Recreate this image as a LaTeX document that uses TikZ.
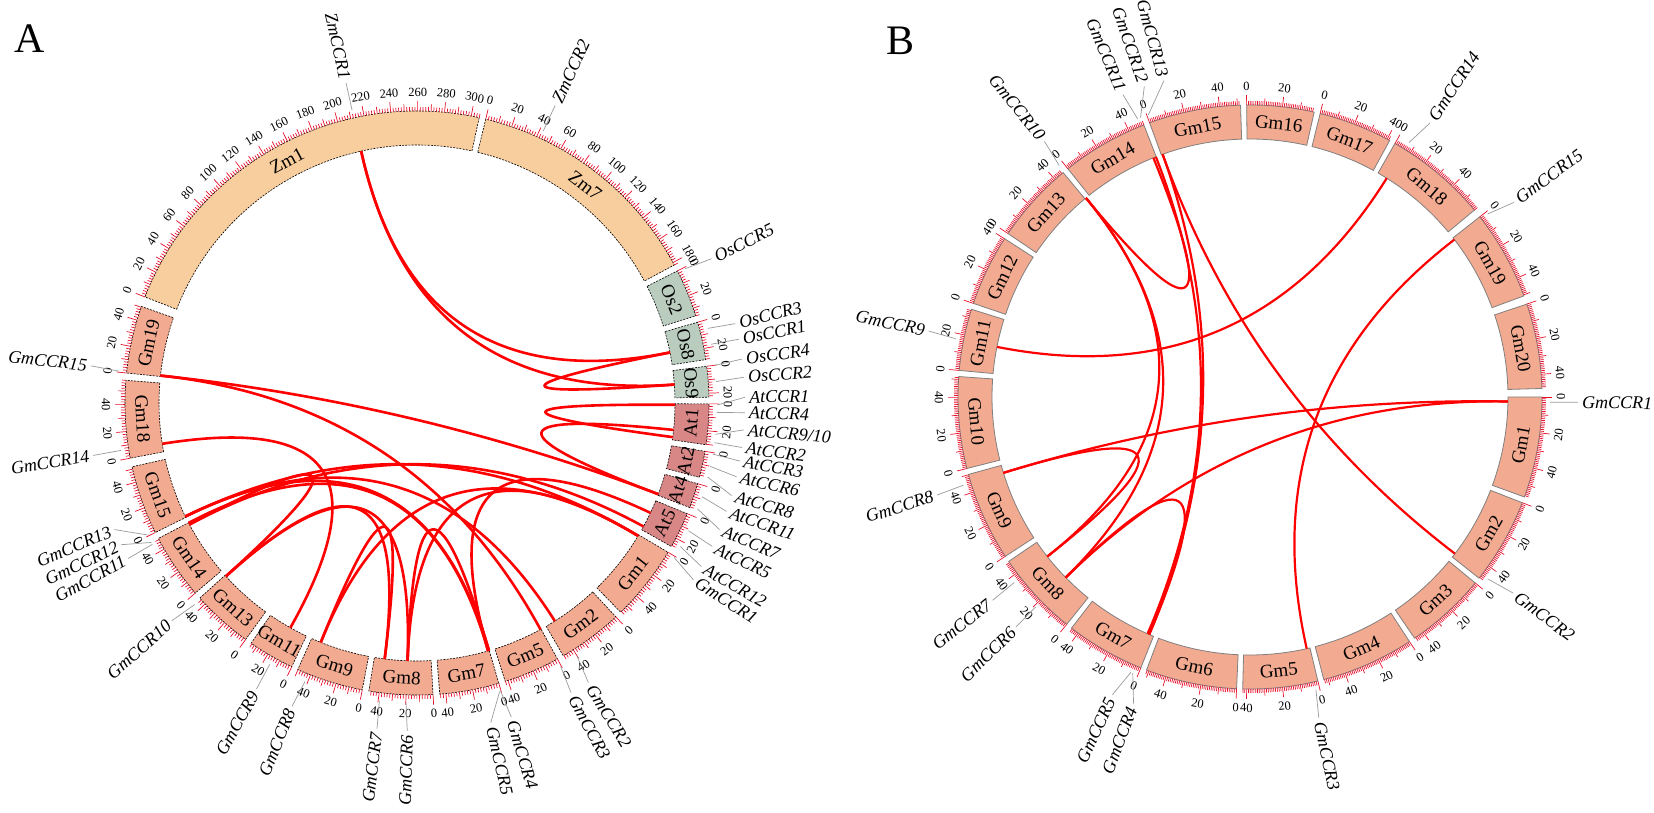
\documentclass[tikz,border=0pt]{standalone}
\usepackage{fontspec}
\setmainfont{Liberation Serif}
\usetikzlibrary{calc}

\definecolor{zmfill}{HTML}{F9CE9E}
\definecolor{osfill}{HTML}{B9CCBE}
\definecolor{atfill}{HTML}{D88686}
\definecolor{gmfill}{HTML}{F2AA91}
\definecolor{tickred}{HTML}{E8102A}
\definecolor{labelgray}{HTML}{9A9A9A}

\def\rin{258}
\def\rout{292}

\tikzset{
  chrbox/.style={line width=0.6pt, draw=black, dash pattern=on 2pt off 1.2pt},
  chrboxb/.style={line width=0.8pt, draw=gray},
  tickmark/.style={draw=tickred, line width=0.7pt},
  ticklabel/.style={font=\fontsize{12.5}{12.5}\selectfont, inner sep=0pt},
  chrlabel/.style={font=\fontsize{19}{19}\selectfont, inner sep=0pt},
  genelabel/.style={font=\fontsize{18}{18}\selectfont\itshape, inner sep=1pt},
  geneline/.style={draw=labelgray, line width=0.7pt},
  ccrlink/.style={draw=red, line width=2.6pt},
  panel/.style={font=\fontsize{42}{42}\selectfont, inner sep=0pt},
}

% one chromosome: start angle, size (Mb), fill, label, box style
\newcommand\chrom[5]{%
  \pgfmathsetmacro\chrend{#1-#2*\degmb}
  \filldraw[fill=#3, #5] (#1:\rin) arc[start angle=#1, end angle=\chrend, radius=\rin]
    -- (\chrend:\rout) arc[start angle=\chrend, end angle=#1, radius=\rout] -- cycle;
  \pgfmathsetmacro\chrmid{(#1+\chrend)/2}
  \pgfmathsetmacro\chrrot{sin(\chrmid)>=0 ? \chrmid-90 : \chrmid+90}
  \node[chrlabel, rotate=\chrrot] at (\chrmid:275) {#4};
  \pgfmathtruncatemacro\chrlast{floor(#2)}
  \foreach \t in {0,\tickstep,...,\chrlast} {
    \pgfmathsetmacro\ta{#1-\t*\degmb}
    \pgfmathtruncatemacro\tmodt{mod(\t,20)}
    \pgfmathtruncatemacro\tmodd{mod(\t,10)}
    \pgfmathsetmacro\tlen{\tmodt==0 ? 10 : (\tmodd==0 ? 7 : 4)}
    \draw[tickmark] (\ta:\rout) -- (\ta:{\rout+\tlen});
    \ifnum\tmodt=0
      \pgfmathsetmacro\trot{sin(\ta)>=0 ? \ta-90 : \ta+90}
      \node[ticklabel, rotate=\trot] at (\ta:311) {\t};
    \fi
  }
}

% one gene: name, angle on ring, angle of label, text
\newcommand\gene[4]{%
  \coordinate (#1) at (#2:\rin);
  \coordinate (#1-c) at (#2:{\rin/3});
  \draw[geneline] (#2:300) -- (#3:328);
  \pgfmathtruncatemacro\glflip{cos(#3)<0 ? 1 : 0}
  \ifnum\glflip=1
    \pgfmathsetmacro\glrot{#3+180}
    \node[genelabel, anchor=east, rotate=\glrot] at (#3:331) {#4};
  \else
    \node[genelabel, anchor=west, rotate=#3] at (#3:331) {#4};
  \fi
}

\newcommand\ccr[2]{\draw[ccrlink] (#1) .. controls (#1-c) and (#2-c) .. (#2);}

\begin{document}
\begin{tikzpicture}[x=1pt, y=1pt]
\useasboundingbox (0,0) rectangle (1654,812);

\node[panel] (panelA) at (30,773) {A};
\node[panel] (panelB) at (900,771) {B};

%% A
\begin{scope}[shift={(417,409)}]
\def\degmb{0.2647}\def\tickstep{2}
\foreach \s/\n/\c/\l in {158.70/306/zmfill/Zm1, 76.39/182/zmfill/Zm7,
    26.90/36/osfill/Os2, 16.06/28.4/osfill/Os8, 7.23/23/osfill/Os9,
    -0.17/30.4/atfill/At1, -9.53/19.7/atfill/At2, -16.05/18.6/atfill/At4,
    -22.28/27/atfill/At5, -30.74/56.8/gmfill/Gm1, -47.08/48.6/gmfill/Gm2,
    -61.25/42.2/gmfill/Gm5, -73.73/44.6/gmfill/Gm7, -86.85/47.8/gmfill/Gm8,
    -100.81/50.2/gmfill/Gm9, -115.41/34.8/gmfill/Gm11, -125.93/45.9/gmfill/Gm13,
    -139.39/49/gmfill/Gm14, -153.67/51.8/gmfill/Gm15, -169.10/58/gmfill/Gm18,
    -185.90/50.6/gmfill/Gm19}
  {\chrom{\s}{\n}{\c}{\l}{chrbox}}

\gene{a-ZmCCR1}{102.5}{102.5}{ZmCCR1}
\gene{a-ZmCCR2}{65.1}{65.1}{ZmCCR2}
\gene{a-OsCCR5}{26.6}{26.1}{OsCCR5}
\gene{a-OsCCR3}{14.4}{14.0}{OsCCR3}
\gene{a-OsCCR1}{11.3}{11.2}{OsCCR1}
\gene{a-OsCCR4}{7.2}{7.7}{OsCCR4}
\gene{a-OsCCR2}{4.1}{4.5}{OsCCR2}
\gene{a-AtCCR1}{-0.4}{1.0}{AtCCR1}
\gene{a-AtCCR4}{-1.8}{-1.7}{AtCCR4}
\gene{a-AtCCR9}{-6.0}{-4.7}{AtCCR9/10}
\gene{a-AtCCR2}{-7.6}{-7.8}{AtCCR2}
\gene{a-AtCCR3}{-9.8}{-10.2}{AtCCR3}
\gene{a-AtCCR6}{-12.2}{-13.0}{AtCCR6}
\gene{a-AtCCR8}{-14.3}{-16.4}{AtCCR8}
\gene{a-AtCCR11}{-18.2}{-19.3}{AtCCR11}
\gene{a-AtCCR7}{-20.7}{-22.7}{AtCCR7}
\gene{a-AtCCR5}{-25.2}{-25.9}{AtCCR5}
\gene{a-AtCCR12}{-28.6}{-29.9}{AtCCR12}
\gene{a-GmCCR1}{-31.0}{-32.6}{GmCCR1}
\gene{a-GmCCR2}{-57.7}{-58.5}{GmCCR2}
\gene{a-GmCCR3}{-61.4}{-62.0}{GmCCR3}
\gene{a-GmCCR4}{-73.8}{-73.3}{GmCCR4}
\gene{a-GmCCR5}{-74.0}{-77.0}{GmCCR5}
\gene{a-GmCCR6}{-92.1}{-91.7}{GmCCR6}
\gene{a-GmCCR7}{-97.2}{-97.0}{GmCCR7}
\gene{a-GmCCR8}{-111.9}{-112.4}{GmCCR8}
\gene{a-GmCCR9}{-119.4}{-119.3}{GmCCR9}
\gene{a-GmCCR10}{-137.8}{-138.4}{GmCCR10}
\gene{a-GmCCR11}{-151.9}{-151.7}{GmCCR11}
\gene{a-GmCCR12}{-152.3}{-154.4}{GmCCR12}
\gene{a-GmCCR13}{-153.9}{-157.3}{GmCCR13}
\gene{a-GmCCR14}{-170.9}{-170.8}{GmCCR14}
\gene{a-GmCCR15}{173.9}{173.5}{GmCCR15}

% links
\ccr{a-ZmCCR1}{a-OsCCR1}
\ccr{a-ZmCCR1}{a-OsCCR2}
\ccr{a-OsCCR1}{a-OsCCR2}
\ccr{a-AtCCR1}{a-AtCCR2}
\ccr{a-AtCCR9}{a-AtCCR7}
\ccr{a-GmCCR15}{a-AtCCR7}
\ccr{a-GmCCR15}{a-GmCCR3}
\ccr{a-GmCCR14}{a-GmCCR9}
\ccr{a-GmCCR1}{a-GmCCR8}
\ccr{a-GmCCR1}{a-GmCCR6}
\ccr{a-GmCCR13}{a-GmCCR1}
\ccr{a-GmCCR11}{a-AtCCR12}
\ccr{a-GmCCR5}{a-AtCCR5}
\ccr{a-GmCCR8}{a-GmCCR7}
\ccr{a-GmCCR10}{a-GmCCR11}
\ccr{a-GmCCR10}{a-GmCCR7}
\ccr{a-GmCCR10}{a-GmCCR6}
\ccr{a-GmCCR12}{a-GmCCR5}
\ccr{a-GmCCR13}{a-GmCCR2}
\ccr{a-GmCCR13}{a-GmCCR4}
\ccr{a-GmCCR6}{a-GmCCR4}
\end{scope}

%% B
\begin{scope}[shift={(1250,415)}, ccrlink/.append style={line width=2.2pt}]
\def\degmb{0.3525}\def\tickstep{1}
\foreach \s/\n/\l in {0/56.8/Gm1, -21.22/48.6/Gm2, -39.55/45.8/Gm3,
    -56.89/52.4/Gm4, -76.56/42.2/Gm5, -92.64/51.4/Gm6, -111.96/44.6/Gm7,
    -128.88/47.8/Gm8, -146.93/50.2/Gm9, -165.83/51.6/Gm10, -185.22/34.8/Gm11,
    -198.69/40.1/Gm12, -214.03/45.9/Gm13, -231.41/49/Gm14, -249.88/51.8/Gm15,
    -269.34/37.9/Gm16, -283.90/41.6/Gm17, -299.76/58/Gm18,
    -321.90/50.6/Gm19, -341.44/47.9/Gm20}
  {\chrom{\s}{\n}{gmfill}{\l}{chrboxb}}

\gene{b-GmCCR1}{-1.0}{-0.9}{GmCCR1}
\gene{b-GmCCR2}{-37.4}{-36.7}{GmCCR2}
\gene{b-GmCCR3}{-77.3}{-77.9}{GmCCR3}
\gene{b-GmCCR4}{-113.0}{-110.8}{GmCCR4}
\gene{b-GmCCR5}{-113.4}{-114.8}{GmCCR5}
\gene{b-GmCCR6}{-135.6}{-135.5}{GmCCR6}
\gene{b-GmCCR7}{-141.8}{-141.7}{GmCCR7}
\gene{b-GmCCR8}{-162.9}{-162.6}{GmCCR8}
\gene{b-GmCCR9}{168.8}{168.4}{GmCCR9}
\gene{b-GmCCR10}{129.5}{128.8}{GmCCR10}
\gene{b-GmCCR11}{112.0}{112.8}{GmCCR11}
\gene{b-GmCCR12}{111.4}{108.8}{GmCCR12}
\gene{b-GmCCR13}{109.8}{105.2}{GmCCR13}
\gene{b-GmCCR14}{58.0}{56.7}{GmCCR14}
\gene{b-GmCCR15}{37.6}{36.4}{GmCCR15}

% links
\ccr{b-GmCCR9}{b-GmCCR14}
\ccr{b-GmCCR15}{b-GmCCR3}
\ccr{b-GmCCR1}{b-GmCCR8}
\ccr{b-GmCCR1}{b-GmCCR6}
\ccr{b-GmCCR8}{b-GmCCR7}
\ccr{b-GmCCR10}{b-GmCCR11}
\ccr{b-GmCCR10}{b-GmCCR7}
\ccr{b-GmCCR10}{b-GmCCR6}
\ccr{b-GmCCR12}{b-GmCCR5}
\ccr{b-GmCCR13}{b-GmCCR2}
\ccr{b-GmCCR13}{b-GmCCR4}
\ccr{b-GmCCR6}{b-GmCCR4}
\end{scope}
\end{tikzpicture}
\end{document}
